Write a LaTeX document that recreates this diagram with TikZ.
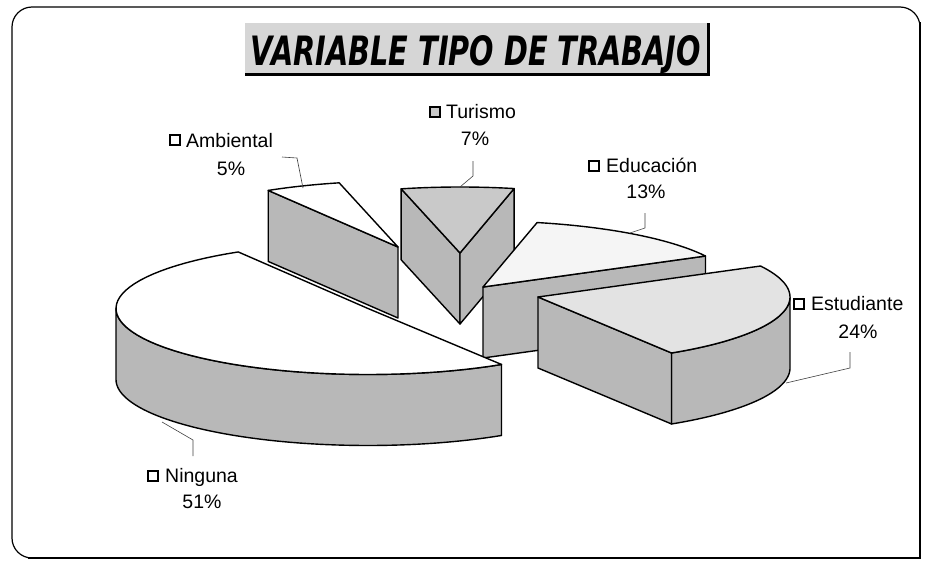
\documentclass[tikz,border=0pt]{standalone}
\usepackage{graphicx}
\usepackage{fontspec}
\setmainfont{Liberation Sans}
\newfontfamily\titlefont{DejaVu Sans}
\definecolor{sidegray}{gray}{0.72}
\definecolor{turtop}{gray}{0.79}
\definecolor{esttop}{gray}{0.89}
\definecolor{edutop}{gray}{0.96}
\definecolor{titlebg}{gray}{0.84}
\newcommand\PieRX{252}
\newcommand\PieRY{66}
\newcommand\PieTH{71}
\newcommand\pietop[5]{\filldraw[slice,fill=#5] (#1,#2) -- plot[domain=#3:#4,samples=60,variable=\t] ({#1+\PieRX*cos(\t)},{#2+\PieRY*sin(\t)}) -- cycle;}
\newcommand\pierad[4]{\filldraw[slice,fill=#4] (#1,#2) -- ({#1+\PieRX*cos(#3)},{#2+\PieRY*sin(#3)}) -- ({#1+\PieRX*cos(#3)},{#2+\PieRY*sin(#3)+\PieTH}) -- (#1,{#2+\PieTH}) -- cycle;}
\newcommand\pieside[5]{\filldraw[slice,fill=#5] plot[domain=#3:#4,samples=60,variable=\t] ({#1+\PieRX*cos(\t)},{#2+\PieRY*sin(\t)}) -- plot[domain=#4:#3,samples=60,variable=\t] ({#1+\PieRX*cos(\t)},{#2+\PieRY*sin(\t)+\PieTH}) -- cycle;}
\begin{document}
\begin{tikzpicture}[x=1pt,y=-1pt,
  slice/.style={draw=black,line width=1.4pt,line join=round},
  leader/.style={draw=black!75,line width=0.6pt},
  lbl/.style={font=\fontsize{19.5}{22}\selectfont,inner sep=0pt,anchor=base west},
  pct/.style={font=\fontsize{19.5}{22}\selectfont,inner sep=0pt,anchor=base},
  key/.style={draw=black,line width=1.1pt,minimum size=10pt,inner sep=0pt,anchor=center,fill=white}]
\useasboundingbox (0,0) rectangle (927,568);
% frame
\draw[line width=1.2pt,rounded corners=20pt] (920,558) -- (12,558) -- (12,7) -- (920,7) -- (920,558);
\draw[line width=2.8pt] (920,22) -- (920,558) -- (28,558);
% title
\fill[titlebg] (245,23) rectangle (708,74);
\draw[line width=3pt] (245,74) -- (708,74) -- (708,23);
\node[inner sep=0pt,anchor=base] (title) at (476,65) {\resizebox{450pt}{30pt}{\titlefont\bfseries\itshape VARIABLE TIPO DE TRABAJO}};
% Ambiental
\pierad{398}{247}{-121}{sidegray}
\pietop{398}{247}{-121}{-103.5}{white}
% Turismo
\pierad{460}{253}{-103.5}{sidegray}
\pierad{460}{253}{-77.6}{sidegray}
\pietop{460}{253}{-103.5}{-77.6}{turtop}
% Educacion
\pierad{483}{287}{-28}{sidegray}
\pietop{483}{287}{-77.6}{-28}{edutop}
% Estudiante
\pieside{538}{297}{0}{58}{sidegray}
\pierad{538}{297}{58}{sidegray}
\pietop{538}{297}{-28}{58}{esttop}
% Ninguna
\pieside{368}{308.5}{58}{180}{sidegray}
\pietop{368}{308.5}{58}{239}{white}
% labels
\node[key] (kamb) at (175,140) {};
\node[lbl] (lamb) at (186,147) {Ambiental};
\node[pct] (pamb) at (231,175) {5\%};
\node[key,fill=turtop] (ktur) at (435,112) {};
\node[lbl] (ltur) at (446,118) {Turismo};
\node[pct] (ptur) at (475,145) {7\%};
\node[key] (kedu) at (594,166) {};
\node[lbl] (ledu) at (606,172) {Educación};
\node[pct] (pedu) at (646,198) {13\%};
\node[key] (kest) at (799,304) {};
\node[lbl] (lest) at (811,310) {Estudiante};
\node[pct] (pest) at (858,338) {24\%};
\node[key] (knin) at (153,476) {};
\node[lbl] (lnin) at (165,482) {Ninguna};
\node[pct] (pnin) at (202,508) {51\%};
% leaders
\coordinate (ambA) at (303,188); \coordinate (ambB) at (297,158); \coordinate (ambC) at (282,157);
\coordinate (turA) at (460,187); \coordinate (turB) at (473,176); \coordinate (turC) at (473,161);
\coordinate (eduA) at (630,233); \coordinate (eduB) at (645,228); \coordinate (eduC) at (645,213);
\coordinate (estA) at (786,383); \coordinate (estB) at (850,368); \coordinate (estC) at (850,352);
\coordinate (ninA) at (162,422); \coordinate (ninB) at (193,440); \coordinate (ninC) at (193,456);
\draw[leader] (ambA) -- (ambB) -- (ambC);
\draw[leader] (turA) -- (turB) -- (turC);
\draw[leader] (eduA) -- (eduB) -- (eduC);
\draw[leader] (estA) -- (estB) -- (estC);
\draw[leader] (ninA) -- (ninB) -- (ninC);
\end{tikzpicture}
\end{document}
